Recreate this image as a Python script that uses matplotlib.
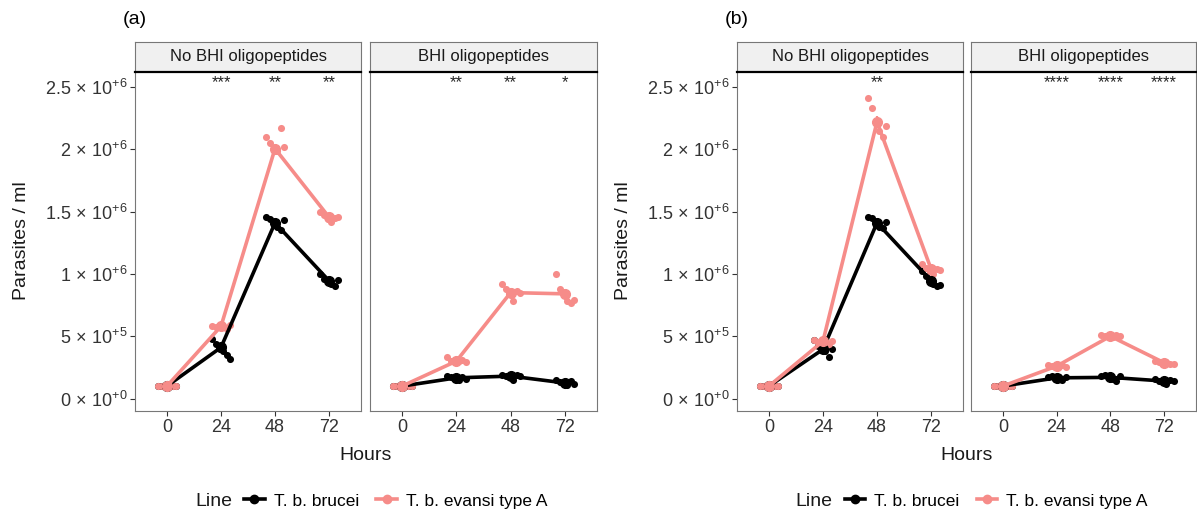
import numpy as np
import matplotlib
matplotlib.use("Agg")
import matplotlib.pyplot as plt
from matplotlib.lines import Line2D

plt.rcParams["font.family"] = ["Liberation Sans", "DejaVu Sans"]
plt.rcParams["mathtext.fontset"] = "custom"
plt.rcParams["mathtext.rm"] = "Liberation Sans"
plt.rcParams["mathtext.it"] = "Liberation Sans:italic"
plt.rcParams["mathtext.bf"] = "Liberation Sans:bold"

# ---------------- data (parasites / ml, in millions) ----------------
hours = [0, 24, 48, 72]
lines_names = ["T. b. brucei", "T. b. evansi type A"]
facets = ["No BHI oligopeptides", "BHI oligopeptides"]

# experiment (a)
a_nobhi_brucei_mean = [0.10, 0.41, 1.41, 0.945]
a_nobhi_evansi_mean = [0.10, 0.58, 2.005, 1.455]
a_bhi_brucei_mean = [0.10, 0.166, 0.18, 0.125]
a_bhi_evansi_mean = [0.10, 0.30, 0.85, 0.84]

a_nobhi_brucei_reps = [[0.10, 0.10, 0.10, 0.10, 0.10, 0.10],
                       [0.48, 0.44, 0.40, 0.38, 0.35, 0.32],
                       [1.46, 1.44, 1.40, 1.38, 1.35, 1.43],
                       [1.00, 0.96, 0.94, 0.92, 0.90, 0.95]]
a_nobhi_evansi_reps = [[0.10, 0.10, 0.10, 0.10, 0.10, 0.10],
                       [0.58, 0.57, 0.59, 0.58, 0.56, 0.59],
                       [2.10, 2.05, 2.00, 1.99, 2.17, 2.02],
                       [1.50, 1.47, 1.44, 1.42, 1.45, 1.46]]
a_bhi_brucei_reps = [[0.10, 0.10, 0.10, 0.10, 0.10, 0.10],
                     [0.18, 0.17, 0.16, 0.15, 0.17, 0.16],
                     [0.19, 0.18, 0.17, 0.15, 0.19, 0.18],
                     [0.15, 0.13, 0.12, 0.11, 0.14, 0.12]]
a_bhi_evansi_reps = [[0.10, 0.10, 0.10, 0.10, 0.10, 0.10],
                     [0.33, 0.30, 0.29, 0.30, 0.31, 0.29],
                     [0.92, 0.88, 0.84, 0.78, 0.86, 0.85],
                     [1.00, 0.88, 0.84, 0.78, 0.77, 0.79]]

# experiment (b)
b_nobhi_brucei_mean = [0.10, 0.395, 1.41, 0.945]
b_nobhi_evansi_mean = [0.10, 0.46, 2.22, 1.04]
b_bhi_brucei_mean = [0.10, 0.166, 0.17, 0.14]
b_bhi_evansi_mean = [0.10, 0.26, 0.50, 0.287]

b_nobhi_brucei_reps = [[0.10, 0.10, 0.10, 0.10, 0.10, 0.10],
                       [0.47, 0.42, 0.39, 0.38, 0.33, 0.40],
                       [1.46, 1.45, 1.40, 1.38, 1.37, 1.42],
                       [1.02, 0.98, 0.94, 0.92, 0.90, 0.91]]
b_nobhi_evansi_reps = [[0.10, 0.10, 0.10, 0.10, 0.10, 0.10],
                       [0.47, 0.45, 0.46, 0.48, 0.44, 0.46],
                       [2.41, 2.33, 2.22, 2.15, 2.10, 2.19],
                       [1.08, 1.05, 1.02, 1.00, 1.04, 1.03]]
b_bhi_brucei_reps = [[0.10, 0.10, 0.10, 0.10, 0.10, 0.10],
                     [0.17, 0.18, 0.16, 0.17, 0.15, 0.17],
                     [0.18, 0.19, 0.17, 0.16, 0.14, 0.18],
                     [0.16, 0.14, 0.13, 0.12, 0.15, 0.14]]
b_bhi_evansi_reps = [[0.10, 0.10, 0.10, 0.10, 0.10, 0.10],
                     [0.27, 0.26, 0.25, 0.26, 0.27, 0.25],
                     [0.51, 0.50, 0.50, 0.49, 0.51, 0.50],
                     [0.30, 0.29, 0.28, 0.29, 0.28, 0.28]]

# significance labels per time point
a_nobhi_sig = ["", "***", "**", "**"]
a_bhi_sig = ["", "**", "**", "*"]
b_nobhi_sig = ["", "", "**", ""]
b_bhi_sig = ["", "****", "****", "****"]

y_ticks = [0.0, 0.5, 1.0, 1.5, 2.0, 2.5]
y_ticklabels = [r"$0\,\times\,10^{+0}$", r"$5\,\times\,10^{+5}$", r"$1\,\times\,10^{+6}$",
                r"$1.5\,\times\,10^{+6}$", r"$2\,\times\,10^{+6}$", r"$2.5\,\times\,10^{+6}$"]

# ---------------- styling ----------------
BLACK = "#000000"
PINK = "#F68C89"
colors = [BLACK, PINK]
jitter = [-4.0, -2.2, -0.6, 1.0, 2.6, 4.2]
W, H = 1197, 516

fig = plt.figure(figsize=(W / 100, H / 100), dpi=100)


def px_axes(x0, x1, y0, y1):
    return fig.add_axes([x0 / W, 1 - y1 / H, (x1 - x0) / W, (y1 - y0) / H])


def draw_facet(x0, x1, title, means, reps, sig, show_y):
    ax = px_axes(x0, x1, 72, 411)
    for m, r, c in zip(means, reps, colors):
        r = np.asarray(r)
        for h, vals in zip(hours, r):
            ax.scatter(np.array(jitter) + h, vals, s=26, color=c, lw=0, zorder=3)
        se = r.std(axis=1, ddof=1) / np.sqrt(r.shape[1])
        ax.errorbar(hours, m, yerr=se, color=c, lw=0, elinewidth=1.6,
                    capsize=0, zorder=4)
        ax.plot(hours, m, color=c, lw=2.6, marker="o", ms=7, zorder=4,
                solid_capstyle="round")
    for h, s in zip(hours, sig):
        if s:
            ax.text(h, 2.50, s, ha="center", va="baseline", fontsize=12,
                    color="#222222")
    ax.set_xlim(-14.2, 86.2)
    ax.set_ylim(-0.1, 2.62)
    ax.set_xticks(hours)
    ax.set_xticklabels([str(h) for h in hours], fontsize=13, color="#333333")
    ax.tick_params(axis="x", length=3.5, width=0.8, color="#333333", pad=2)
    if show_y:
        ax.set_yticks(y_ticks)
        ax.set_yticklabels(y_ticklabels, fontsize=13, color="#333333")
        ax.tick_params(axis="y", length=3.5, width=0.8, color="#333333", pad=2)
    else:
        ax.set_yticks([])
    for sp in ax.spines.values():
        sp.set_color("#777777")
        sp.set_linewidth(0.8)
    ax.spines["top"].set_visible(False)

    st = px_axes(x0, x1, 42, 72)
    st.set_facecolor("#F0F0F0")
    st.set_xticks([])
    st.set_yticks([])
    for sp in st.spines.values():
        sp.set_color("#777777")
        sp.set_linewidth(0.8)
    st.spines["bottom"].set_color("#000000")
    st.spines["bottom"].set_linewidth(1.6)
    st.text(0.5, 0.5, title, ha="center", va="center", fontsize=12,
            color="#1A1A1A", transform=st.transAxes)
    return ax


panels = [
    ("(a)", 135, 361, 370, 597,
     [a_nobhi_brucei_mean, a_nobhi_evansi_mean], [a_nobhi_brucei_reps, a_nobhi_evansi_reps], a_nobhi_sig,
     [a_bhi_brucei_mean, a_bhi_evansi_mean], [a_bhi_brucei_reps, a_bhi_evansi_reps], a_bhi_sig),
    ("(b)", 737, 963, 971, 1196,
     [b_nobhi_brucei_mean, b_nobhi_evansi_mean], [b_nobhi_brucei_reps, b_nobhi_evansi_reps], b_nobhi_sig,
     [b_bhi_brucei_mean, b_bhi_evansi_mean], [b_bhi_brucei_reps, b_bhi_evansi_reps], b_bhi_sig),
]

for tag, l0, l1, r0, r1, lm, lr, ls, rm, rr, rs in panels:
    draw_facet(l0, l1, facets[0], lm, lr, ls, True)
    draw_facet(r0, r1, facets[1], rm, rr, rs, False)
    fig.text((l0 - 12) / W, 1 - 20 / H, tag, fontsize=14, ha="left", va="center")
    fig.text((l0 - 113) / W, 1 - 241 / H, "Parasites / ml", rotation=90,
             fontsize=14, ha="center", va="center", color="#1A1A1A")
    cx = (l0 + r1) / 2
    fig.text(cx / W, 1 - 455 / H, "Hours", fontsize=14, ha="center",
             va="center", color="#1A1A1A")
    # legend
    handles = [Line2D([], [], color=c, lw=2.6, marker="o", ms=6) for c in colors]
    fig.legend(handles, lines_names, loc="center left",
               bbox_to_anchor=((cx - 122) / W, 1 - 501 / H), ncol=2,
               frameon=False, fontsize=12.5, handlelength=1.2,
               handletextpad=0.5, columnspacing=1.0, borderaxespad=0,
               borderpad=0)
    fig.text((cx - 134) / W, 1 - 501 / H, "Line", fontsize=14, ha="right",
             va="center", color="#1A1A1A")

fig.savefig("out.png", dpi=100)
